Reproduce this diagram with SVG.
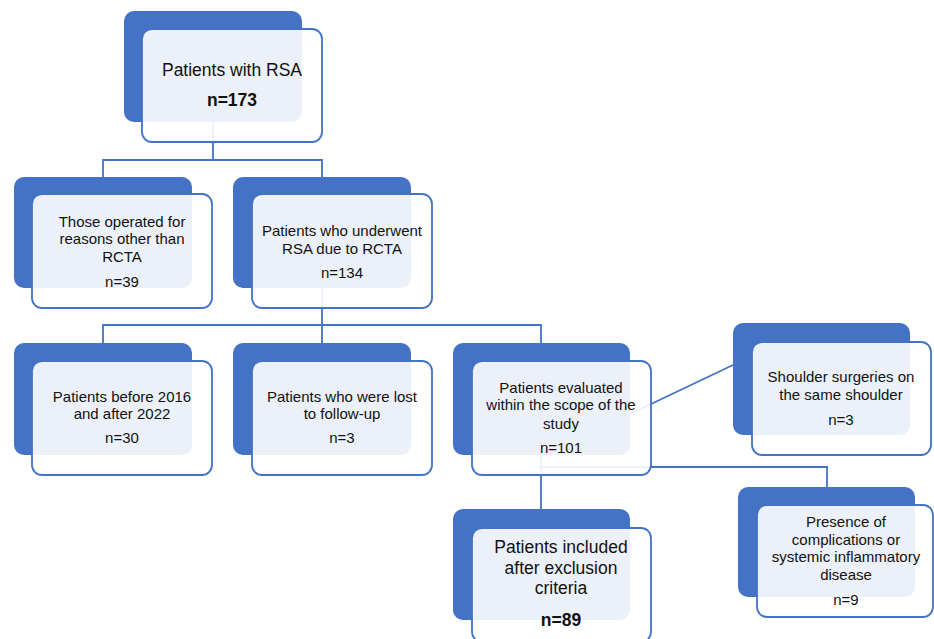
<svg xmlns="http://www.w3.org/2000/svg" width="934" height="639" viewBox="0 0 934 639">
<style>
.back{fill:#4472C4;}
.front{fill:#FFFFFF;fill-opacity:0.9;stroke:#4472C4;stroke-width:1.8;}
.conn{fill:none;stroke:#4472C4;stroke-width:1.8;}
text{font-family:"Liberation Sans",Arial,sans-serif;font-size:15px;fill:#111;text-anchor:middle;}
.big{font-size:17.5px;}
.b{font-weight:bold;}
</style>
<rect width="934" height="639" fill="#FFFFFF"/>
<g id="connectors">
<path class="conn" d="M213,122 V160 H103 V177 M213,160 H322 V177"/>
<path class="conn" d="M322,288 V325 H103 V343 M322,325 V343 M322,325 H541 V343"/>
<path class="conn" d="M630,414 L733,365"/>
<path class="conn" d="M541,455 V509 M541,467 H827 V487"/>
</g>
<g id="n_rsa">
<rect class="back" x="124" y="11" width="178" height="111" rx="10"/>
<rect class="front" x="142" y="29" width="180" height="113" rx="10"/>
<text class="big" x="232" y="76">Patients with RSA</text>
<text class="big b" x="232" y="106">n=173</text>
</g>
<g id="n_other">
<rect class="back" x="14" y="177" width="178" height="111" rx="10"/>
<rect class="front" x="32" y="194" width="180" height="114" rx="10"/>
<text x="122" y="227">Those operated for</text>
<text x="122" y="244">reasons other than</text>
<text x="122" y="262">RCTA</text>
<text x="122" y="287">n=39</text>
</g>
<g id="n_rcta">
<rect class="back" x="233" y="177" width="178" height="111" rx="10"/>
<rect class="front" x="252" y="194" width="180" height="114" rx="10"/>
<text x="342" y="236">Patients who underwent</text>
<text x="342" y="254">RSA due to RCTA</text>
<text x="342" y="278">n=134</text>
</g>
<g id="n_before">
<rect class="back" x="14" y="343" width="178" height="112" rx="10"/>
<rect class="front" x="32" y="361" width="180" height="114" rx="10"/>
<text x="122" y="402">Patients before 2016</text>
<text x="122" y="419">and after 2022</text>
<text x="122" y="443">n=30</text>
</g>
<g id="n_lost">
<rect class="back" x="233" y="343" width="178" height="112" rx="10"/>
<rect class="front" x="252" y="361" width="180" height="114" rx="10"/>
<text x="342" y="402">Patients who were lost</text>
<text x="342" y="419">to follow-up</text>
<text x="342" y="443">n=3</text>
</g>
<g id="n_evaluated">
<rect class="back" x="453" y="343" width="177" height="112" rx="10"/>
<rect class="front" x="472" y="361" width="179" height="114" rx="10"/>
<text x="561" y="393">Patients evaluated</text>
<text x="561" y="410">within the scope of the</text>
<text x="561" y="429">study</text>
<text x="561" y="453">n=101</text>
</g>
<g id="n_shoulder">
<rect class="back" x="733" y="323" width="177" height="112" rx="10"/>
<rect class="front" x="752" y="342" width="179" height="113" rx="10"/>
<text x="841" y="382">Shoulder surgeries on</text>
<text x="841" y="400">the same shoulder</text>
<text x="841" y="425">n=3</text>
</g>
<g id="n_included">
<rect class="back" x="453" y="509" width="177" height="111" rx="10"/>
<rect class="front" x="472" y="528" width="179" height="114" rx="10"/>
<text class="big" x="561" y="553">Patients included</text>
<text class="big" x="561" y="574">after exclusion</text>
<text class="big" x="561" y="594">criteria</text>
<text class="big b" x="561" y="626">n=89</text>
</g>
<g id="n_complications">
<rect class="back" x="738" y="487" width="177" height="110" rx="10"/>
<rect class="front" x="757" y="505" width="176" height="112" rx="10"/>
<text x="846" y="527">Presence of</text>
<text x="846" y="545">complications or</text>
<text x="846" y="562">systemic inflammatory</text>
<text x="846" y="580">disease</text>
<text x="846" y="605">n=9</text>
</g>
</svg>
